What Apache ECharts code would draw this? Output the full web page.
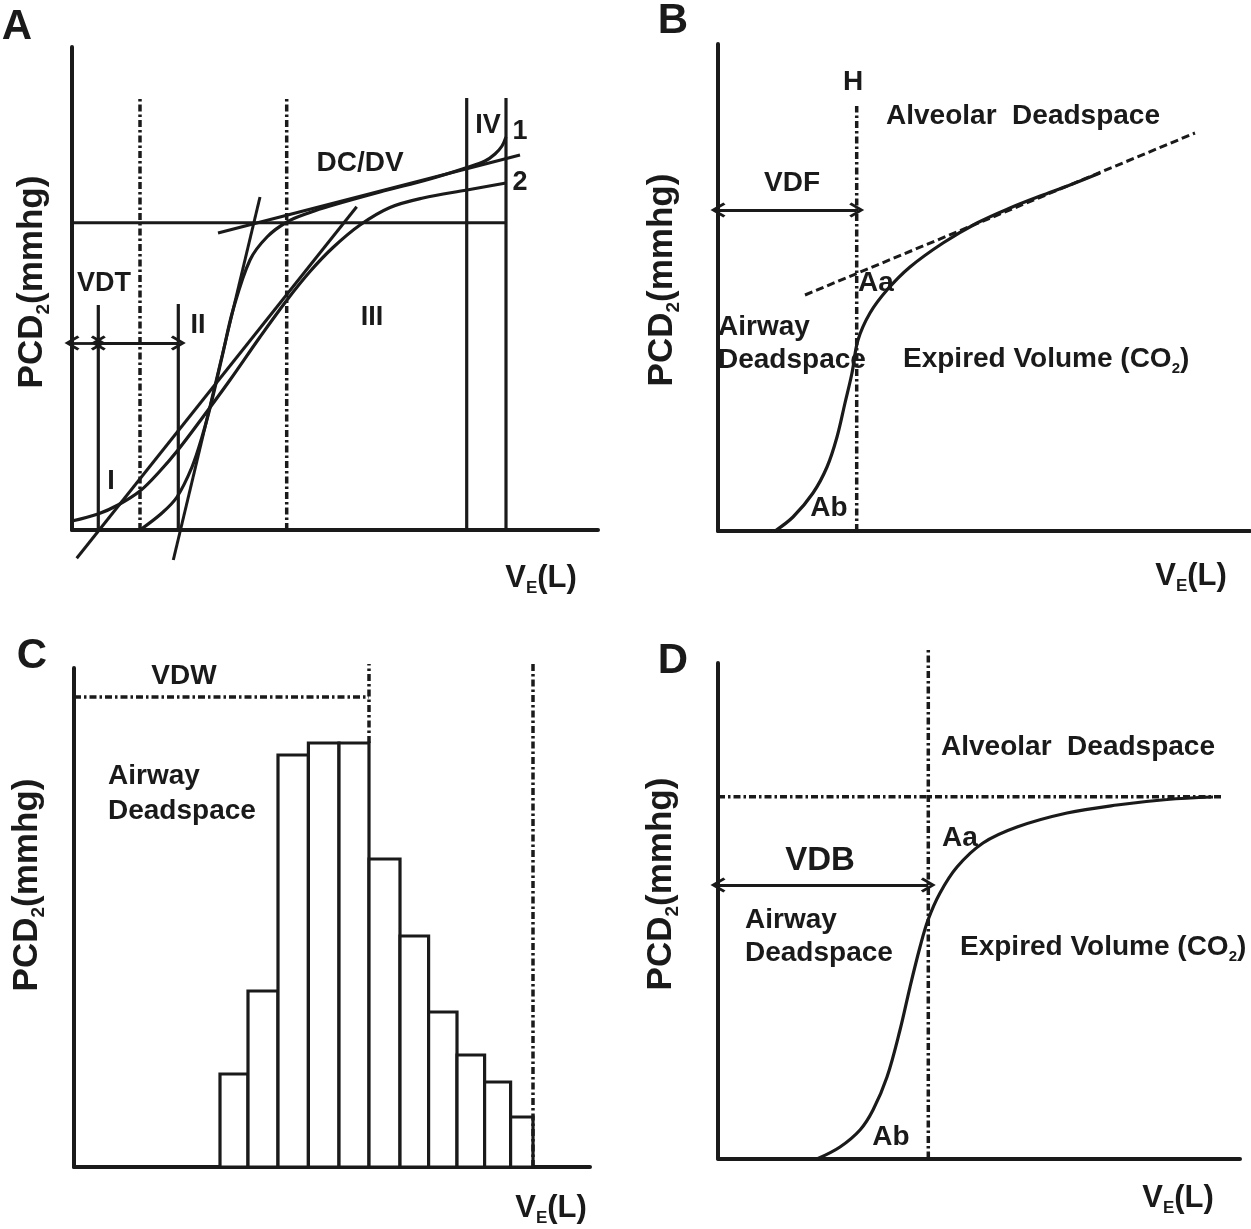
<!DOCTYPE html>
<html><head><meta charset="utf-8">
<script src="https://cdn.jsdelivr.net/npm/echarts@6/dist/echarts.min.js"></script>
<style>html,body{margin:0;padding:0;background:#fff}#c{width:1251px;height:1229px}</style>
</head><body><div id="c"></div>
<script>
// ---------- Panel A (arbitrary units) ----------
const A_curve1 = [[13.6,0],[18,3.4],[21,6.6],[24,12.6],[26,18.6],[28,26],[30.1,35],[32.2,44],[35.6,54],[39,58.6],[43,61.6],[47.6,63.5],[51.6,64.8],[61.6,67.6],[71.6,70.2],[79,72.5],[82.6,73.8],[84.6,75.2],[86,76.8],[86.8,78.6]];
const A_curve2 = [[0,1.8],[5.2,3.2],[9.2,5],[13.6,7.8],[17.6,11.8],[21.2,16],[25.6,21.8],[31.6,30],[37.6,38.6],[43,46],[47.6,51.7],[52.2,56.5],[57.6,61],[63.6,64.5],[70.2,66.4],[79,68],[86.8,69.4]];
const A_tangentII = [[20.26,-6],[37.6,66.6]];
const A_tangentB = [[0.94,-5.66],[56.94,64.66]];
const A_dcdv = [[29.2,59.4],[89.6,75]];
const A_level = [[0,61.46],[86.8,61.46]];
const A_solidV = [[5.26,45],[21.26,45.2],[78.94,86.4],[86.8,86.4]];   // [x, top]
const A_dashedV = [[13.6,86.4],[42.94,86.4]];                          // [x, top]
const A_arrows = [[0,5.26,37.4],[5.26,21.26,37.4]];                     // [x0, x1, y]

// ---------- Panel B ----------
const B_curve = [[11.4,0],[15,2.8],[19,7.6],[21.8,12.8],[23.8,18.8],[25.4,25.6],[26.8,31.6],[28,38.2],[30.4,43.6],[33.8,48.2],[38.4,52.8],[45,57.6],[51.8,61.6],[58.4,64.6],[65,67.2],[71.4,69.6],[76.4,71.6]];
const B_tangent = [[17.4,47.2],[95.4,79.6]];
const B_dashedV = [27.74,85];
const B_arrow = [0,27.74,64.2];

// ---------- Panel C ----------
const C_edges = [29.2,34.8,40.8,46.88,53,59,65.2,70.92,76.6,82.12,87.32,91.8];
const C_heights = [18.6,35.2,82.4,84.8,84.8,61.6,46.2,31,22.4,17,10];
const C_vdw = [0,59,94];                       // [x0, x1, y]
const C_dashedV = [[59,84.8,100.6],[91.8,0,100.6]]; // [x, y0, y1]

// ---------- Panel D ----------
const D_curve = [[20,0],[24.4,2.3],[28.4,5.7],[31,9.7],[33.8,16.3],[36.4,25.7],[38.4,34.3],[40.4,42.3],[42,47.7],[44.4,53.1],[47.8,58.3],[53,63.1],[59.8,66.3],[69.8,69.1],[79.8,70.7],[89.8,71.8],[99,72.3]];
const D_plateau = [0,101,72.36];
const D_dashedV = [42.06,101.9];
const D_arrow = [0,42.06,54.7];

// axis extents [xMax, yMax]
const EXT = [[105.2,96.6],[106.4,97.4],[103.2,99.8],[104.4,99.1]];

const INK = '#1a1a1a';
const FONT = '"Liberation Sans", Arial, sans-serif';
const CHEV = 'path://M10,0L20,12L17.2,14L10,5L2.8,14L0,12Z';
const DASHDOT = [7,3,2.5,3];

const grids = [
  {left:72, top:47, width:526, height:483},
  {left:718, top:44, width:532, height:487},
  {left:74, top:668, width:516, height:499},
  {left:718, top:663, width:522, height:495.5}
].map(g => Object.assign({outerBoundsMode:'none', containLabel:false}, g));

function axis(g, max) {
  return {type:'value', gridIndex:g, min:0, max:max,
    axisLine:{show:true, onZero:false, lineStyle:{color:INK, width:4}},
    axisTick:{show:false}, axisLabel:{show:false}, splitLine:{show:false}};
}
const xAxis = EXT.map((e,i)=>axis(i,e[0]));
const yAxis = EXT.map((e,i)=>axis(i,e[1]));

const series = [];
function line(g, pts, opts) {
  opts = opts || {};
  series.push({type:'line', xAxisIndex:g, yAxisIndex:g, data:pts, symbol:'none', showSymbol:false,
    smooth: opts.smooth || false, clip:false, silent:true, z: opts.z || 2,
    lineStyle:{color:INK, width: opts.width || 3, type: opts.type || 'solid', cap:'butt'}});
}
function arrow(g, a) {
  series.push({type:'lines', coordinateSystem:'cartesian2d', xAxisIndex:g, yAxisIndex:g, clip:false, silent:true,
    symbol:[CHEV, CHEV], symbolSize:15,
    lineStyle:{color:INK, width:2.8, opacity:1},
    data:[{coords:[[a[0],a[2]],[a[1],a[2]]]}]});
}

// Panel A
line(0, A_curve1, {smooth:0.35, width:3.2});
line(0, A_curve2, {smooth:0.35, width:3.2});
line(0, A_tangentII);
line(0, A_tangentB);
line(0, A_dcdv, {width:3.2});
line(0, A_level);
A_solidV.forEach(v => line(0, [[v[0],0],[v[0],v[1]]], {width:3.2}));
A_dashedV.forEach(v => line(0, [[v[0],0],[v[0],v[1]]], {width:3.5, type:DASHDOT}));
A_arrows.forEach(a => arrow(0, a));

// Panel B
line(1, B_curve, {smooth:0.35, width:3.2});
line(1, B_tangent, {width:3, type:[8,4]});
line(1, [[B_dashedV[0],0],[B_dashedV[0],B_dashedV[1]]], {width:3.5, type:DASHDOT});
arrow(1, B_arrow);

// Panel C
series.push({type:'custom', xAxisIndex:2, yAxisIndex:2, clip:false, silent:true,
  data: C_heights.map((h,i)=>[C_edges[i], C_edges[i+1], h]),
  encode:{x:[0,1], y:2},
  renderItem:(params, api)=>{
    const a = api.coord([api.value(0), 0]);
    const b = api.coord([api.value(1), api.value(2)]);
    return {type:'rect', shape:{x:a[0], y:b[1], width:b[0]-a[0], height:a[1]-b[1]},
      style:{fill:'#fff', stroke:INK, lineWidth:3.2}};
  }});
line(2, [[C_vdw[0],C_vdw[2]],[C_vdw[1],C_vdw[2]]], {width:3.5, type:DASHDOT, z:3});
C_dashedV.forEach(v => line(2, [[v[0],v[1]],[v[0],v[2]]], {width:3.5, type:DASHDOT, z:3}));

// Panel D
line(3, D_curve, {smooth:0.35, width:3.2});
line(3, [[D_plateau[0],D_plateau[2]],[D_plateau[1],D_plateau[2]]], {width:3.5, type:DASHDOT});
line(3, [[D_dashedV[0],0],[D_dashedV[0],D_dashedV[1]]], {width:3.5, type:DASHDOT});
arrow(3, D_arrow);

// ---------- text ----------
function T(text, x, y, size, align) {
  return {type:'text', x:x, y:y, z:100, silent:true,
    style:{text:text, fontSize:size, fontWeight:'bold', fontFamily:FONT, fill:INK,
      align:align||'center', verticalAlign:'middle'}};
}
function TS(pre, sub, post, x, y, size, align, rot) {
  return {type:'text', x:x, y:y, z:100, silent:true, rotation: rot||0,
    style:{text:'{m|'+pre+'}{s|'+sub+'}{m|'+post+'}', align:align||'center', verticalAlign:'middle',
      rich:{
        m:{fontSize:size, fontWeight:'bold', fontFamily:FONT, fill:INK, lineHeight:Math.round(size*1.2)},
        s:{fontSize:Math.round(size*0.55), fontWeight:'bold', fontFamily:FONT, fill:INK, lineHeight:Math.round(size*0.42), verticalAlign:'bottom'}
      }}};
}
const R = Math.PI/2;
const graphic = [
  T('A',17,27,42), T('B',673,21,42), T('C',32,656,42), T('D',673,661,42),
  TS('PCD','2','(mmhg)',32,282,35,'center',R),
  TS('PCD','2','(mmhg)',662,280,35,'center',R),
  TS('PCD','2','(mmhg)',27,885,35,'center',R),
  TS('PCD','2','(mmhg)',661,884,35,'center',R),
  TS('V','E','(L)',541,578,31),
  TS('V','E','(L)',1191,576,31),
  TS('V','E','(L)',551,1208,31),
  TS('V','E','(L)',1178,1198,31),
  // A
  T('VDT',104,284,27), T('I',111,482,27), T('II',198,326,27), T('III',372,318,27),
  T('IV',488,126,27), T('1',520,132,27), T('2',520,183,27), T('DC/DV',360,163,28),
  // B
  T('H',853,82,28), T('Alveolar  Deadspace',1023,116,28), T('VDF',792,183,28),
  T('Aa',876,283,28), T('Airway',718,327,28,'left'), T('Deadspace',718,360,28,'left'),
  TS('Expired Volume (CO','2',')',903,359,28,'left'), T('Ab',829,508,28),
  // C
  T('VDW',184,676,28), T('Airway',108,776,28,'left'), T('Deadspace',108,811,28,'left'),
  // D
  T('Alveolar  Deadspace',1078,747,28), T('Aa',960,838,28), T('VDB',820,861,33),
  T('Airway',745,920,28,'left'), T('Deadspace',745,953,28,'left'),
  TS('Expired Volume (CO','2',')',960,947,28,'left'), T('Ab',891,1137,28)
];

const chart = echarts.init(document.getElementById('c'), null, {renderer:'canvas'});
chart.setOption({animation:false, backgroundColor:'#fff', grid:grids, xAxis:xAxis, yAxis:yAxis, series:series, graphic:graphic});
</script></body></html>
